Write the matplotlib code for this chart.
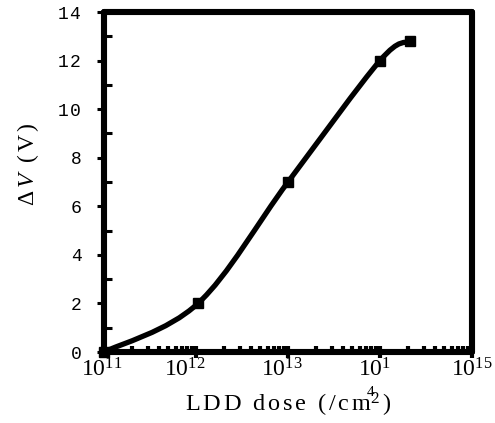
import numpy as np
import matplotlib
matplotlib.use("Agg")
import matplotlib.pyplot as plt
import matplotlib.transforms as mtransforms
from matplotlib.path import Path
from matplotlib.patches import PathPatch
from matplotlib.ticker import FixedLocator, NullFormatter, MultipleLocator

plt.rcParams['font.family'] = ['Liberation Serif', 'DejaVu Sans']
plt.rcParams['mathtext.fontset'] = 'custom'
plt.rcParams['mathtext.rm'] = 'Liberation Serif'
plt.rcParams['mathtext.it'] = 'Liberation Serif:italic'
plt.rcParams['mathtext.tt'] = 'Liberation Mono'

# data
dose = [1e11, 1.05e12, 1e13, 1e14, 2.1e14]
dv = [0.0, 2.0, 7.0, 12.0, 12.8]
xticks = [1e11, 1e12, 1e13, 1e14, 1e15]
xticklabels = [r'$\mathregular{10^{11}}$', r'$\mathregular{10^{12}}$', r'$\mathregular{10^{13}}$',
               r'$\mathregular{10^{1}}$', r'$\mathregular{10^{15}}$']
yticks = [0, 2, 4, 6, 8, 10, 12, 14]
yticklabels = ['0', '2', '4', '6', '8', r'$\mathtt{1\,0}$', r'$\mathtt{1\,2}$', r'$\mathtt{1\,4}$']

fig = plt.figure(figsize=(4.95, 4.23), dpi=100)
ax = fig.add_axes([0.2101, 0.1678, 0.7434, 0.8038])
ax.set_xscale('log')
ax.set_xlim(1e11, 1e15)
ax.set_ylim(0, 14)

# smooth curve (Catmull-Rom style Bezier in log-x space)
lx = np.log10(dose)
py = np.array(dv)
P = np.column_stack([lx, py])
n = len(P)
verts = [P[0]]
codes = [Path.MOVETO]
for i in range(n - 1):
    p0 = P[i - 1] if i > 0 else P[i]
    p1 = P[i]
    p2 = P[i + 1]
    p3 = P[i + 2] if i + 2 < n else P[i + 1]
    c1 = p1 + (p2 - p0) / 6.0
    c2 = p2 - (p3 - p1) / 6.0
    verts += [c1, c2, p2]
    codes += [Path.CURVE4] * 3
verts = np.array(verts)
verts[:, 0] = 10 ** verts[:, 0]
patch = PathPatch(Path(verts, codes), fill=False, lw=3.8, edgecolor='black',
                  transform=ax.transData, clip_on=False, capstyle='round', joinstyle='round')
ax.add_patch(patch)
ax.plot(dose, dv, linestyle='none', marker='s', ms=7, color='black', clip_on=False, zorder=5)

for s in ax.spines.values():
    s.set_linewidth(4.4)
    s.set_capstyle('round')

ax.set_xticks(xticks)
ax.set_xticklabels(xticklabels, fontsize=17, fontfamily='Liberation Serif')
minor = [m * 10.0 ** e for e in range(11, 15) for m in range(2, 10)]
ax.xaxis.set_minor_locator(FixedLocator(minor))
ax.xaxis.set_minor_formatter(NullFormatter())
ax.tick_params(axis='x', which='major', direction='inout', length=8.6, width=3, pad=0)
ax.tick_params(axis='x', which='minor', direction='in', length=4.5, width=3)
xoffs_px = [-2, -11, -6, -5, 0]
for lab, dx in zip(ax.get_xticklabels(), xoffs_px):
    lab.set_transform(lab.get_transform() + mtransforms.ScaledTranslation(dx / 100.0, 0, fig.dpi_scale_trans))

ax.set_yticks(yticks)
ax.set_yticklabels(yticklabels, fontsize=13, fontfamily='Liberation Mono')
ax.yaxis.set_minor_locator(MultipleLocator(1))
ax.tick_params(axis='y', which='major', direction='out', length=5, width=2.2, pad=11)
ax.tick_params(axis='y', which='minor', direction='in', length=6, width=2.2)

ax.set_xlabel(r'$\mathregular{L\,D\,D\,\ \,d\,o\,s\,e\,\ \,(\,/\,c\,m^{2}\,)}$', fontsize=17.5,
              fontfamily='Liberation Serif', labelpad=7)
ax.set_ylabel(r'$\mathregular{\Delta\,}$$\it{V}$$\mathregular{\,\ \,(\,V\,)}$', fontsize=17,
              fontfamily='Liberation Serif')
ax.yaxis.set_label_coords(-0.172, 0.553)
ax.text(0.725, -0.12, '4', transform=ax.transAxes, fontsize=11, fontfamily='Liberation Serif',
        ha='center', va='center')

fig.savefig('out.png', dpi=100)
